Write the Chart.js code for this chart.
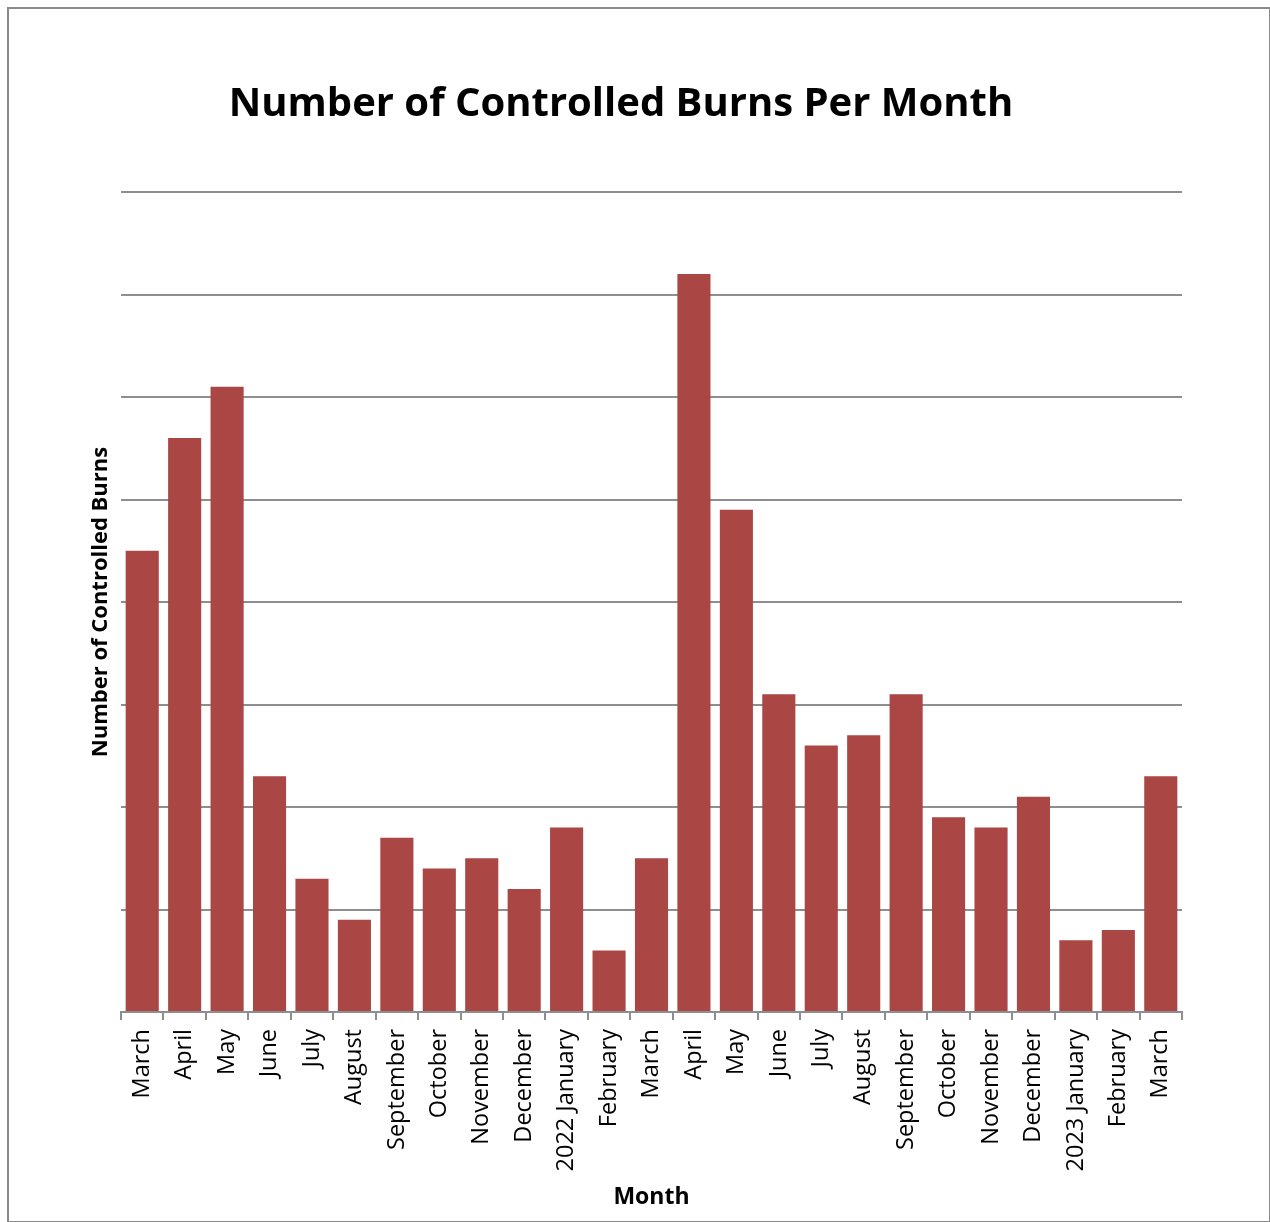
<!DOCTYPE html>
<html>
<head>
<meta charset="utf-8">
<script src="https://cdn.jsdelivr.net/npm/chart.js@4"></script>
<style>
    body { margin: 0; background: #fff; overflow: hidden; }
    #frame { position: absolute; left: 7px; top: 7px; width: 1260px; height: 1212px; border: 2px solid #8a8a8a; }
    #wrap { position: absolute; left: 0; top: 0; width: 1270px; height: 1222px; }
</style>
</head>
<body>
<div id="frame"></div>
<div id="wrap"><canvas id="burnsChart"></canvas></div>
<script>
const months = ['March', 'April', 'May', 'June', 'July', 'August', 'September', 'October', 'November', 'December',
    '2022 January', 'February', 'March', 'April', 'May', 'June', 'July', 'August', 'September', 'October',
    'November', 'December', '2023 January', 'February', 'March'];
const burns = [45, 56, 61, 23, 13, 9, 17, 14, 15, 12, 18, 6, 15, 72, 49, 31, 26, 27, 31, 19, 18, 21, 7, 8, 23];
const yMax = 80;
const yStep = 10;

const fontName = '"Open Sans", Lato, sans-serif';
const gridGray = '#8e8e8e';

function renderChart() {
    const ctx = document.getElementById('burnsChart').getContext('2d');
    new Chart(ctx, {
        type: 'bar',
        data: {
            labels: months,
            datasets: [{
                label: 'Number of Controlled Burns',
                data: burns,
                backgroundColor: '#AA4644',
                borderWidth: 0,
                categoryPercentage: 1,
                barPercentage: 0.78
            }]
        },
        options: {
            responsive: true,
            maintainAspectRatio: false,
            animation: false,
            layout: { padding: { left: 0, right: 28, top: 0, bottom: 0 } },
            plugins: {
                legend: { display: false },
                tooltip: { enabled: false },
                title: {
                    display: true,
                    text: 'Number of Controlled Burns Per Month',
                    color: '#000',
                    font: { family: fontName, size: 40, weight: 'bold' },
                    padding: { top: 81, bottom: 63 }
                }
            },
            scales: {
                x: {
                    grid: {
                        display: true,
                        offset: true,
                        drawOnChartArea: false,
                        drawTicks: true,
                        tickLength: 8,
                        color: gridGray,
                        lineWidth: 2
                    },
                    border: { display: true, color: gridGray, width: 2 },
                    ticks: {
                        color: '#000',
                        font: { family: fontName, size: 23.5 },
                        minRotation: 90,
                        maxRotation: 90,
                        autoSkip: false,
                        padding: 9
                    },
                    title: {
                        display: true,
                        text: 'Month',
                        color: '#000',
                        font: { family: fontName, size: 23, weight: 'bold' },
                        padding: { top: 0, bottom: 11 }
                    },
                    afterFit: scale => { scale.height = 210; }
                },
                y: {
                    min: 0,
                    max: yMax,
                    grid: { color: gridGray, lineWidth: 2, drawTicks: false },
                    border: { display: false },
                    ticks: { display: false, stepSize: yStep },
                    title: {
                        display: true,
                        text: 'Number of Controlled Burns',
                        color: '#000',
                        font: { family: fontName, size: 22, weight: 'bold' },
                        padding: { top: 88, bottom: 0 }
                    },
                    afterFit: scale => { scale.width = 121; }
                },
                yRight: {
                    position: 'right',
                    display: true,
                    grid: { display: false },
                    border: { display: false },
                    ticks: { display: false },
                    afterFit: scale => { scale.width = 60; }
                }
            }
        }
    });
}

renderChart();
</script>
</body>
</html>
